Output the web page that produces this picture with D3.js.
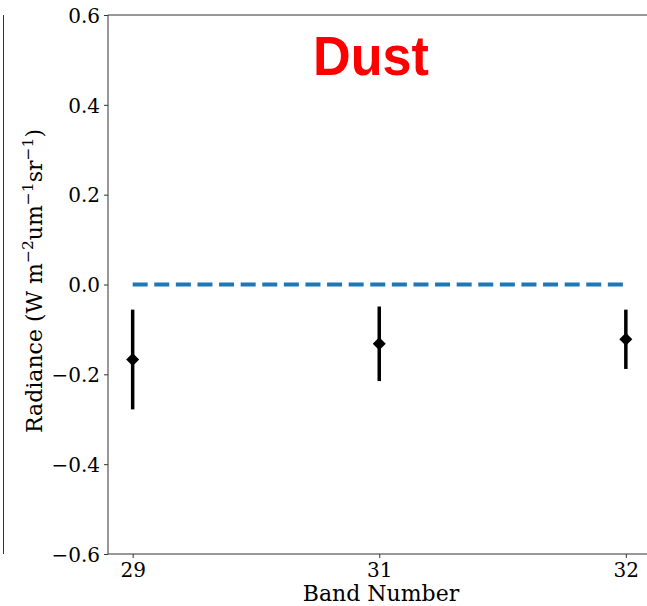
<!DOCTYPE html>
<html>
<head>
<meta charset="utf-8">
<script src="https://cdn.jsdelivr.net/npm/d3@7"></script>
<style>
  body { margin: 0; background: #fff; }
  svg { display: block; }
</style>
</head>
<body>
<div class="chart"></div>
<script>
// band labels, means and error half-widths
var bands = ["29", "31", "32"];
var means = [-0.167, -0.132, -0.122];
var errs = [0.111, 0.083, 0.066];
var yTicks = [-0.6, -0.4, -0.2, 0.0, 0.2, 0.4, 0.6];

var W = 647, H = 606;
var margin = {top: 15, left: 108, bottom: 52};
var plotW = 542.5, plotH = H - margin.top - margin.bottom;

var svg = d3.select(".chart").append("svg")
    .attr("width", W)
    .attr("height", H);

// edge of the neighbouring panel
svg.append("line")
    .attr("x1", 3.5).attr("x2", 3.5)
    .attr("y1", margin.top).attr("y2", margin.top + plotH)
    .attr("stroke", "#333").attr("stroke-width", 1);

var g = svg.append("g")
    .attr("transform", "translate(" + margin.left + "," + margin.top + ")");

var x = d3.scaleLinear().domain([-0.1, 2.1]).range([0, plotW]);
var y = d3.scaleLinear().domain([-0.6, 0.6]).range([plotH, 0]);

// frame (right spine falls off the canvas)
g.append("path")
    .attr("d", "M" + (plotW + 5) + ",0H0V" + plotH + "H" + (plotW + 5))
    .attr("fill", "none").attr("stroke", "#333").attr("stroke-width", 1);

var fmt = function (d) { return d3.format(".1f")(d).replace("-", "\u2212"); };

var yAxis = g.append("g")
    .call(d3.axisLeft(y).tickValues(yTicks).tickFormat(fmt).tickSize(4).tickPadding(4));
var xAxis = g.append("g")
    .attr("transform", "translate(0," + plotH + ")")
    .call(d3.axisBottom(x).tickValues([0, 1, 2]).tickFormat(function (d) { return bands[d]; }).tickSize(4).tickPadding(5));

[xAxis, yAxis].forEach(function (a) {
  a.select(".domain").remove();
  a.selectAll("line").attr("stroke", "#333");
  a.selectAll("text")
      .attr("fill", "#000")
      .style("font-family", "DejaVu Serif")
      .style("font-size", "20px");
});
yAxis.selectAll("text").attr("dy", "0.36em");

// zero reference line
g.append("line")
    .attr("x1", x(0)).attr("x2", x(2))
    .attr("y1", y(0)).attr("y2", y(0))
    .attr("stroke", "#1f77b4")
    .attr("stroke-width", 4)
    .attr("stroke-dasharray", "15,6.6");

// error bars
g.selectAll(".err")
  .data(means)
  .enter().append("line")
    .attr("x1", function (d, i) { return x(i); })
    .attr("x2", function (d, i) { return x(i); })
    .attr("y1", function (d, i) { return y(d + errs[i]); })
    .attr("y2", function (d, i) { return y(d - errs[i]); })
    .attr("stroke", "#000")
    .attr("stroke-width", 3.5);

// diamond markers
g.selectAll(".pt")
  .data(means)
  .enter().append("path")
    .attr("d", "M0,-6.5L6.5,0L0,6.5L-6.5,0Z")
    .attr("transform", function (d, i) { return "translate(" + x(i) + "," + y(d) + ")"; })
    .attr("fill", "#000");

// title
svg.append("text")
    .attr("x", 371).attr("y", 75)
    .attr("text-anchor", "middle")
    .attr("textLength", 116)
    .attr("lengthAdjust", "spacingAndGlyphs")
    .style("font-family", "Liberation Sans, Arial, sans-serif")
    .style("font-weight", "bold")
    .style("font-size", "56px")
    .attr("fill", "#ff0000")
    .text("Dust");

// x label
svg.append("text")
    .attr("x", 381).attr("y", 601)
    .attr("text-anchor", "middle")
    .style("font-family", "DejaVu Serif")
    .style("font-size", "22px")
    .text("Band Number");

// y label with superscripts
var yl = svg.append("text")
    .attr("transform", "translate(42," + 281 + ") rotate(-90)")
    .attr("text-anchor", "middle")
    .style("font-family", "DejaVu Serif")
    .style("font-size", "22px");
var parts = [["Radiance (W m", 0], ["\u22122", 1], ["um", 0], ["\u22121", 1], ["sr", 0], ["\u22121", 1], [")", 0]];
parts.forEach(function (p, i) {
  var prev = i > 0 ? parts[i - 1][1] : 0;
  var shift = p[1] === prev ? 0 : (p[1] ? -9 : 9);
  yl.append("tspan")
      .attr("dy", shift)
      .style("font-size", p[1] ? "15.5px" : "22px")
      .text(p[0]);
});
</script>
</body>
</html>
